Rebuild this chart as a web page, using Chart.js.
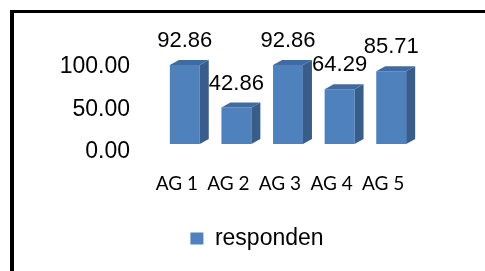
<!DOCTYPE html>
<html lang="id">
<head>
  <meta charset="UTF-8">
  <title>responden</title>
  <script src="https://cdn.jsdelivr.net/npm/chart.js"></script>
  <style>
    body { margin: 0; background: #fff; }
    #wrap { position: relative; width: 485px; height: 271px; overflow: hidden; }
    #frame { position: absolute; left: 10px; top: 10px; width: 480px; height: 270px;
             border-left: 4px solid #000; border-top: 3px solid #000; }
    #c { position: absolute; left: 29px; top: 0; }
  </style>
</head>
<body>
  <div id="wrap">
    <div id="frame"></div>
    <canvas id="c" width="456" height="271"></canvas>
  </div>

  <script>
    // data
    const categories = ['AG 1', 'AG 2', 'AG 3', 'AG 4', 'AG 5'];
    const responden = [92.86, 42.86, 92.86, 64.29, 85.71];
    const yTicks = [0, 50, 100];

    const FRONT = '#4F81BD', SIDE = '#385D8A', TOP = '#3F6BA3';
    const DX = 9, DY = 5;

    // fake 3d: top and side faces, plus value labels above each bar
    const bar3d = {
      id: 'bar3d',
      afterDatasetsDraw(chart) {
        const ctx = chart.ctx;
        const meta = chart.getDatasetMeta(0);
        ctx.save();
        meta.data.forEach(bar => {
          const { x, y, base, width } = bar.getProps(['x', 'y', 'base', 'width'], true);
          const l = x - width / 2, r = x + width / 2;
          ctx.fillStyle = SIDE;
          ctx.beginPath();
          ctx.moveTo(r, y); ctx.lineTo(r + DX, y - DY); ctx.lineTo(r + DX, base - DY); ctx.lineTo(r, base);
          ctx.closePath(); ctx.fill();
          ctx.fillStyle = TOP;
          ctx.beginPath();
          ctx.moveTo(l, y); ctx.lineTo(l + DX, y - DY); ctx.lineTo(r + DX, y - DY); ctx.lineTo(r, y);
          ctx.closePath(); ctx.fill();
        });
        ctx.fillStyle = '#000';
        ctx.font = "22px 'Liberation Sans', Arial";
        ctx.textAlign = 'center';
        ctx.textBaseline = 'middle';
        meta.data.forEach((bar, i) => {
          ctx.fillText(responden[i].toFixed(2), bar.x, bar.y - 24);
        });
        ctx.restore();
      }
    };

    Chart.defaults.font.family = "'Liberation Sans', Arial, sans-serif";
    Chart.defaults.color = '#000';

    new Chart(document.getElementById('c'), {
      type: 'bar',
      data: {
        labels: categories,
        datasets: [{
          label: 'responden',
          data: responden,
          backgroundColor: FRONT,
          borderWidth: 0,
          barPercentage: 1,
          categoryPercentage: 0.58
        }]
      },
      options: {
        responsive: false,
        animation: false,
        layout: { padding: { top: 59, right: 0, left: 0, bottom: 11 } },
        plugins: {
          tooltip: { enabled: false },
          legend: {
            position: 'bottom',
            labels: { boxWidth: 13, boxHeight: 12, font: { size: 23 }, color: '#000' }
          }
        },
        scales: {
          x: {
            grid: { display: false, drawTicks: false },
            border: { display: false },
            afterFit: s => { s.height = 73; },
            ticks: {
              font: { family: "Lato, 'Open Sans', sans-serif", size: 19 },
              padding: 28, labelOffset: -8, maxRotation: 0, autoSkip: false
            }
          },
          y: {
            min: 0, max: 100,
            grid: { display: false, drawTicks: false },
            border: { display: false },
            afterFit: s => { s.width = 130; },
            afterBuildTicks: s => { s.ticks = yTicks.map(v => ({ value: v })); },
            ticks: {
              font: { size: 23 }, padding: 29, labelOffset: 8,
              callback: v => Number(v).toFixed(2)
            }
          },
          // empty right margin so the legend stays centred on the whole frame
          yRight: {
            type: 'linear', position: 'right',
            grid: { display: false, drawTicks: false },
            border: { display: false },
            ticks: { display: false },
            afterFit: s => { s.width = 68; }
          }
        }
      },
      plugins: [bar3d]
    });
  </script>
</body>
</html>
